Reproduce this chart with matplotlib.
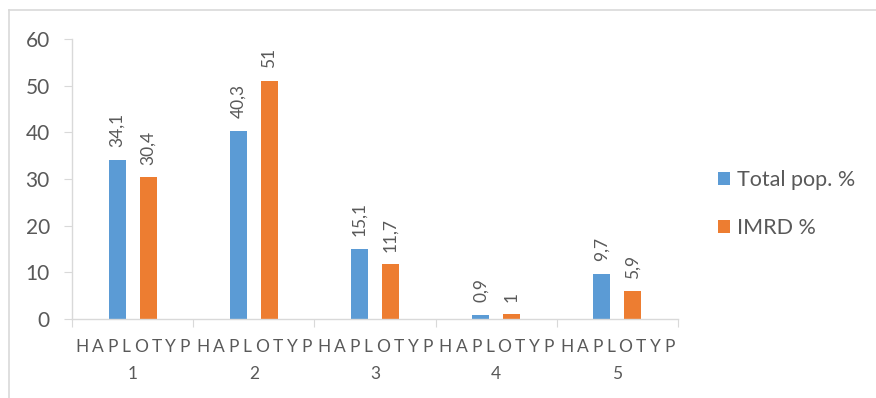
import matplotlib
matplotlib.use("Agg")
import matplotlib.pyplot as plt
import numpy as np
from matplotlib.lines import Line2D

categories = ["HAPLOTYP\n1", "HAPLOTYP\n2", "HAPLOTYP\n3", "HAPLOTYP\n4", "HAPLOTYP\n5"]
total_pop = [34.1, 40.3, 15.1, 0.9, 9.7]
imrd = [30.4, 51, 11.7, 1, 5.9]
total_labels = ["34,1", "40,3", "15,1", "0,9", "9,7"]
imrd_labels = ["30,4", "51", "11,7", "1", "5,9"]
series_names = ["Total pop. %", "IMRD %"]

blue = "#5b9bd5"
orange = "#ed7d31"
gray = "#595959"
plt.rcParams['font.family'] = ['Lato', 'DejaVu Sans']

fig = plt.figure(figsize=(8.76, 3.98), dpi=100)
W, H = 876, 398
ax = fig.add_axes([72 / W, 1 - 319 / H, (678 - 72) / W, (319 - 39) / H])

x = np.arange(len(categories))
bw = 0.14
off = 0.128
ax.bar(x - off, total_pop, bw, color=blue, label=series_names[0])
ax.bar(x + off, imrd, bw, color=orange, label=series_names[1])

for xi, v, s in zip(x, total_pop, total_labels):
    ax.annotate(s, (xi - off, v), xytext=(0, 9), textcoords="offset points",
                rotation=90, ha="center", va="bottom", color=gray, fontsize=12.5)
for xi, v, s in zip(x, imrd, imrd_labels):
    ax.annotate(s, (xi + off, v), xytext=(0, 9), textcoords="offset points",
                rotation=90, ha="center", va="bottom", color=gray, fontsize=12.5)

ax.set_xlim(-0.5, len(categories) - 0.5)
ax.set_ylim(0, 60)
ax.set_yticks(range(0, 61, 10))
ax.tick_params(axis="y", length=6, color="#d9d9d9", labelsize=15, labelcolor=gray, pad=10)
ax.set_xticks(np.arange(-0.5, len(categories), 1.0))
ax.set_xticklabels([])
ax.tick_params(axis="x", length=6, color="#d9d9d9", direction="out")

# letter-spaced category labels
fig.canvas.draw()
renderer = fig.canvas.get_renderer()
px_per_unit = ax.transData.transform((1, 0))[0] - ax.transData.transform((0, 0))[0]
span_px = 115.0
for xi, c in zip(x, categories):
    top, bottom = c.split("\n")
    texts = [ax.text(0, -4.3, ch, ha="left", va="top", color=gray, fontsize=12.5) for ch in top]
    widths = [t.get_window_extent(renderer).width for t in texts]
    gap = (span_px - sum(widths)) / (len(top) - 1)
    pos = xi - span_px / 2 / px_per_unit
    for t, w in zip(texts, widths):
        t.set_x(pos)
        pos += (w + gap) / px_per_unit
    ax.text(xi, -10.0, bottom, ha="center", va="top", color=gray, fontsize=12.5)

for s in ["top", "right"]:
    ax.spines[s].set_visible(False)
ax.spines["left"].set_color("#d9d9d9")
ax.spines["bottom"].set_color("#d9d9d9")
ax.spines["left"].set_linewidth(1)
ax.spines["bottom"].set_linewidth(1)

leg = ax.legend(loc="upper left", bbox_to_anchor=(718 / W, 1 - 170 / H), bbox_transform=fig.transFigure,
                frameon=False, fontsize=15.5, handlelength=0.55, handleheight=0.55,
                handletextpad=0.35, labelspacing=1.3, borderaxespad=0, borderpad=0)
for t in leg.get_texts():
    t.set_color(gray)

# chart border (top and left)
fig.add_artist(Line2D([8.5 / W, 1], [1 - 9.5 / H, 1 - 9.5 / H], transform=fig.transFigure, color="#d9d9d9", lw=1.2))
fig.add_artist(Line2D([8.5 / W, 8.5 / W], [0, 1 - 9.5 / H], transform=fig.transFigure, color="#d9d9d9", lw=1.2))

fig.savefig("out.png", dpi=100)
